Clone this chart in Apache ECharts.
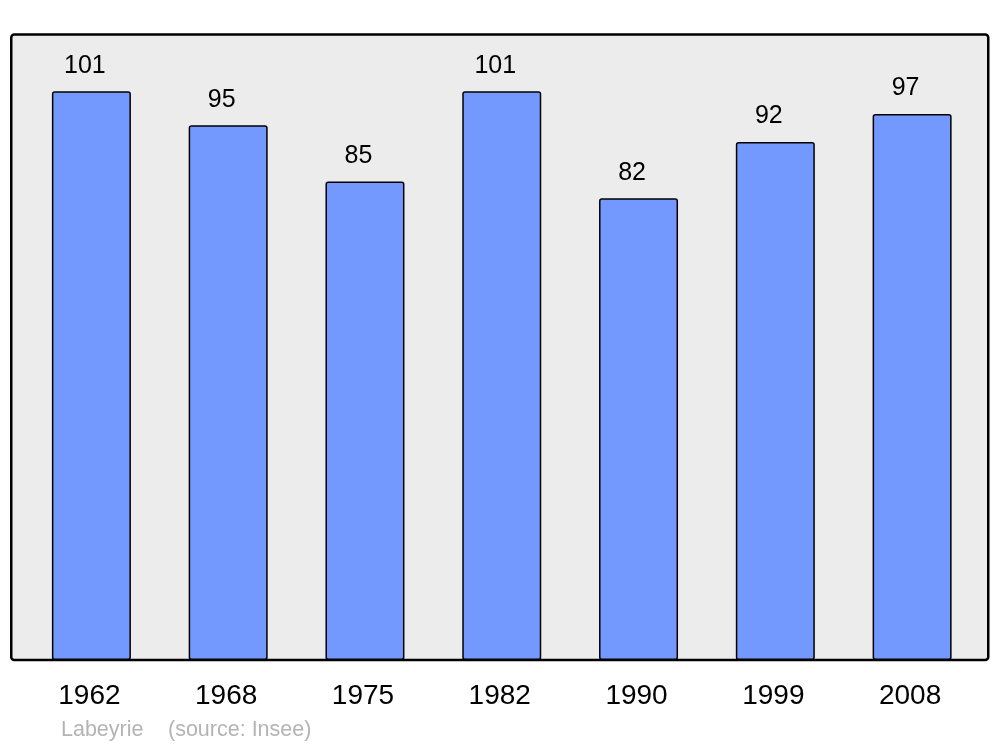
<!DOCTYPE html>
<html>
<head>
<meta charset="utf-8">
<script src="https://cdn.jsdelivr.net/npm/echarts@6/dist/echarts.min.js"></script>
<style>html,body{margin:0;padding:0;background:#fff}#c{width:1000px;height:747px}</style>
</head>
<body>
<div id="c"></div>
<script>
const years = ['1962', '1968', '1975', '1982', '1990', '1999', '2008'];
const population = [101, 95, 85, 101, 82, 92, 97];
const footerAuthor = 'Labeyrie';
const footerSource = '(source: Insee)';

const FONT = '"Liberation Sans", Arial, sans-serif';
const chart = echarts.init(document.getElementById('c'), null, {renderer: 'canvas'});
chart.setOption({
  backgroundColor: '#ffffff',
  animation: false,
  graphic: [
    {type: 'rect', z: -10, shape: {x: 11.25, y: 34.5, width: 977, height: 625.5, r: 3},
     style: {fill: '#ececec', stroke: '#000', lineWidth: 2.5}},
    {type: 'text', left: 61, top: 719.5, style: {text: footerAuthor, fill: '#b4b4b4', font: '21.5px ' + FONT}},
    {type: 'text', left: 168, top: 719.5, style: {text: footerSource, fill: '#b4b4b4', font: '21.5px ' + FONT}}
  ],
  grid: {left: 23, right: 19.5, top: 34.5, bottom: 87},
  xAxis: {
    type: 'category', data: years,
    axisLine: {show: false}, axisTick: {show: false},
    axisLabel: {color: '#000', fontSize: 28, fontFamily: FONT, margin: 22.5, padding: [0, 4, 0, 0]}
  },
  yAxis: {type: 'value', min: 0, max: 111.1, show: false, splitLine: {show: false}},
  series: [{
    type: 'bar', data: population, barWidth: 79,
    itemStyle: {color: '#7399ff', borderColor: '#000', borderWidth: 1.5, borderRadius: 2},
    label: {show: true, position: 'top', distance: 13, offset: [-6.5, 0], color: '#000', fontSize: 25, fontFamily: FONT}
  }]
});
</script>
</body>
</html>
